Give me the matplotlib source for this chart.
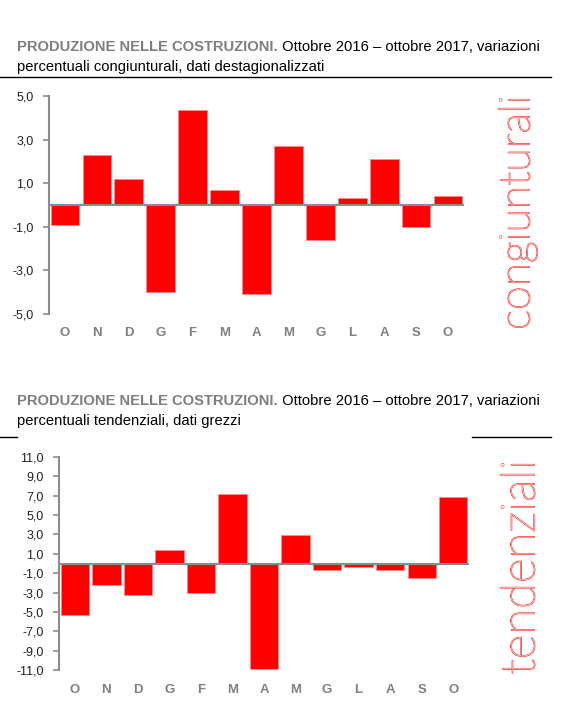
import matplotlib.pyplot as plt
import matplotlib.patheffects as pe

plt.rcParams["font.family"] = ["Liberation Sans Narrow", "Liberation Sans", "DejaVu Sans"]

months = ["O", "N", "D", "G", "F", "M", "A", "M", "G", "L", "A", "S", "O"]

# variazioni congiunturali, dati destagionalizzati
cong_values = [-0.9, 2.3, 1.2, -4.0, 4.4, 0.7, -4.1, 2.7, -1.6, 0.3, 2.1, -1.0, 0.4]
cong_ticks = [-5.0, -3.0, -1.0, 1.0, 3.0, 5.0]

# variazioni tendenziali, dati grezzi
tend_values = [-5.3, -2.2, -3.3, 1.4, -3.0, 7.2, -10.9, 2.9, -0.7, -0.4, -0.7, -1.5, 6.9]
tend_ticks = [-11.0, -9.0, -7.0, -5.0, -3.0, -1.0, 1.0, 3.0, 5.0, 7.0, 9.0, 11.0]

title_bold = "PRODUZIONE NELLE COSTRUZIONI."
title_top = [" Ottobre 2016 – ottobre 2017, variazioni", "percentuali congiunturali, dati destagionalizzati"]
title_bot = [" Ottobre 2016 – ottobre 2017, variazioni", "percentuali tendenziali, dati grezzi"]

W, H = 568, 707
RED = "#ff0000"
GREY = "#8c8c8c"

fig = plt.figure(figsize=(W / 100, H / 100), dpi=100)


def fy(px):
    return 1 - px / H


def add_title(ax, y1, y2, lines, size=11.2):
    # bold grey head, then the rest of line 1 right after it
    head = fig.text(17 / W, fy(y1), title_bold, fontsize=size, fontweight="bold",
                    color="#7f7f7f", va="baseline", ha="left")
    rest = ax.annotate(lines[0], xy=(1, 0), xycoords=head, fontsize=size, color="black",
                       va="bottom", ha="left", annotation_clip=False)
    second = fig.text(17 / W, fy(y2), lines[1], fontsize=size, color="black",
                      va="baseline", ha="left")
    return [head, rest, second]


def draw_bars(ax, values, ticks):
    x = range(len(values))
    ax.bar(x, values, width=0.9, color=RED, edgecolor="#ff8a8a", linewidth=0.6, zorder=2)
    ax.axhline(0, color=GREY, linewidth=1.5, zorder=3)
    ax.set_xlim(-0.5, len(values) - 0.5)
    ax.set_ylim(ticks[0], ticks[-1])
    ax.set_yticks(ticks)
    ax.set_yticklabels([f"{t:.1f}".replace(".", ",") for t in ticks])
    ax.set_xticks(list(x))
    ax.set_xticklabels(months, fontweight="bold", color="#808080", fontsize=9.5)
    for s in ("top", "right", "bottom"):
        ax.spines[s].set_visible(False)
    ax.spines["left"].set_color(GREY)
    ax.spines["left"].set_linewidth(1.5)
    ax.tick_params(axis="y", length=4, width=1.2, color=GREY, labelsize=9,
                   labelcolor="#222222", pad=7)
    ax.tick_params(axis="x", length=0, pad=10)


def side_label(text, xc, yc):
    return fig.text(xc / W, fy(yc), text, rotation=90, fontsize=30, fontweight="light",
                    family=["Lato", "Roboto", "Open Sans", "DejaVu Sans"],
                    color="white", ha="center", va="center",
                    path_effects=[pe.Stroke(linewidth=0.9, foreground="#f04848"), pe.Normal()])


ax1 = fig.add_axes([49 / W, fy(313.5), 415 / W, (313.5 - 96.5) / H])
draw_bars(ax1, cong_values, cong_ticks)

ax2 = fig.add_axes([59 / W, fy(670), 410 / W, (670 - 457) / H])
draw_bars(ax2, tend_values, tend_ticks)

top_texts = add_title(ax1, 51, 70.7, title_top)
bot_texts = add_title(ax2, 405, 425, title_bot)

# rules under the titles
fig.add_artist(plt.Line2D([0, 551 / W], [fy(76.5), fy(76.5)], color="black", linewidth=1))
fig.add_artist(plt.Line2D([0, 17 / W], [fy(437), fy(437)], color="black", linewidth=1))
fig.add_artist(plt.Line2D([472 / W, 551 / W], [fy(437), fy(437)], color="black", linewidth=1))

sides = [(side_label("congiunturali", 518, 212.5), 235),
         (side_label("tendenziali", 522, 567.5), 215)]

# fit the title width and the side labels to the sizes measured on the reference
fig.canvas.draw()
r = fig.canvas.get_renderer()
width = top_texts[1].get_window_extent(r).x1 - top_texts[0].get_window_extent(r).x0
scale = 519 / width
for t in top_texts + bot_texts:
    t.set_fontsize(t.get_fontsize() * scale)
for t, length in sides:
    h = t.get_window_extent(r).height
    t.set_fontsize(t.get_fontsize() * length / h)

fig.savefig("out.png", dpi=100)
